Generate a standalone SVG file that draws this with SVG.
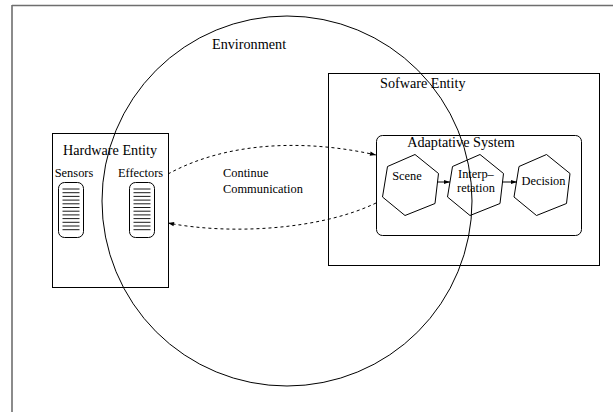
<svg xmlns="http://www.w3.org/2000/svg" width="613" height="412" viewBox="0 0 613 412">
  <style>
    .box { fill: none; stroke: #000; stroke-width: 1; }
    .big { font-family: "Liberation Serif", "Times New Roman", serif; font-size: 14.2px; fill: #000; }
    .small { font-family: "Liberation Serif", "Times New Roman", serif; font-size: 12.4px; fill: #000; }
    .dash { fill: none; stroke: #000; stroke-width: 1; stroke-dasharray: 3 3; }
    .flow { fill: none; stroke: #000; stroke-width: 1; }
    .grill { stroke: #000; stroke-width: 0.9; }
  </style>
  <defs>
    <marker id="arrow" viewBox="0 0 10 10" refX="10" refY="5" markerWidth="8" markerHeight="6" orient="auto" markerUnits="userSpaceOnUse">
      <path d="M0,1.5 L10,5 L0,8.5 z" fill="#000"/>
    </marker>
    <g id="grill-lines">
      <line class="grill" x1="0" y1="0" x2="17" y2="0"/>
      <line class="grill" x1="0" y1="3.7" x2="17" y2="3.7"/>
      <line class="grill" x1="0" y1="7.4" x2="17" y2="7.4"/>
      <line class="grill" x1="0" y1="11.1" x2="17" y2="11.1"/>
      <line class="grill" x1="0" y1="14.8" x2="17" y2="14.8"/>
      <line class="grill" x1="0" y1="18.5" x2="17" y2="18.5"/>
      <line class="grill" x1="0" y1="22.2" x2="17" y2="22.2"/>
      <line class="grill" x1="0" y1="25.9" x2="17" y2="25.9"/>
      <line class="grill" x1="0" y1="29.6" x2="17" y2="29.6"/>
      <line class="grill" x1="0" y1="33.3" x2="17" y2="33.3"/>
      <line class="grill" x1="0" y1="37" x2="17" y2="37"/>
      <line class="grill" x1="0" y1="40.7" x2="17" y2="40.7"/>
    </g>
  </defs>

  <rect width="613" height="412" fill="#fff"/>

  <!-- page frame -->
  <g id="frame">
    <line x1="12" y1="5.5" x2="613" y2="5.5" stroke="#6e6e6e" stroke-width="1.6"/>
    <line x1="12" y1="5" x2="12" y2="412" stroke="#6e6e6e" stroke-width="1.6"/>
  </g>

  <!-- Environment -->
  <g id="environment">
    <circle cx="287" cy="201" r="185" class="box"/>
    <text x="212" y="49" class="big">Environment</text>
  </g>

  <!-- Hardware Entity -->
  <g id="hardware">
    <rect x="52.5" y="133.5" width="116" height="154" class="box"/>
    <text x="110" y="155" class="big" text-anchor="middle">Hardware Entity</text>
  </g>

  <g id="sensors">
    <text x="74" y="177" class="small" text-anchor="middle">Sensors</text>
    <rect x="58.5" y="182.5" width="25" height="55" rx="6" class="box"/>
    <use href="#grill-lines" x="62.5" y="189"/>
  </g>

  <g id="effectors">
    <text x="140.5" y="177" class="small" text-anchor="middle">Effectors</text>
    <rect x="129.5" y="182.5" width="25" height="55" rx="6" class="box"/>
    <use href="#grill-lines" x="133.5" y="189"/>
  </g>

  <!-- Software Entity -->
  <g id="software">
    <rect x="328.5" y="73.5" width="271" height="192" class="box"/>
    <text x="380" y="88" class="big">Sofware Entity</text>
  </g>

  <g id="adaptative">
    <rect x="376.5" y="135.5" width="205" height="100" rx="6" class="box"/>
    <text x="461" y="147" class="big" text-anchor="middle">Adaptative System</text>
  </g>

  <g id="scene">
    <polygon points="415,154.5 438.5,173.5 435,203.5 405,215.5 382.5,197 387.5,166.5" class="box"/>
    <text x="407" y="180" class="small" text-anchor="middle">Scene</text>
  </g>

  <g id="interpretation">
    <polygon points="480,154.5 503.5,173.5 500,203.5 470,215.5 447.5,197 452.5,166.5" class="box"/>
    <text x="458" y="178" class="small">Interp–</text>
    <text x="457" y="192" class="small">retation</text>
  </g>

  <g id="decision">
    <polygon points="546.5,154.5 570,173.5 566.5,203.5 536.5,215.5 514,197 519,166.5" class="box"/>
    <text x="543.5" y="185" class="small" text-anchor="middle">Decision</text>
  </g>

  <!-- connectors -->
  <g id="connectors">
    <path d="M168,174 C230,140 310,140 376,155" class="dash" marker-end="url(#arrow)"/>
    <path d="M376,203 C320,230 230,235 168,223" class="dash" marker-end="url(#arrow)"/>
    <line x1="437" y1="182" x2="450" y2="182" class="flow" marker-end="url(#arrow)"/>
    <line x1="502" y1="182" x2="517" y2="182" class="flow" marker-end="url(#arrow)"/>
  </g>

  <text x="223" y="177" class="small">Continue</text>
  <text x="223" y="193" class="small">Communication</text>
</svg>
